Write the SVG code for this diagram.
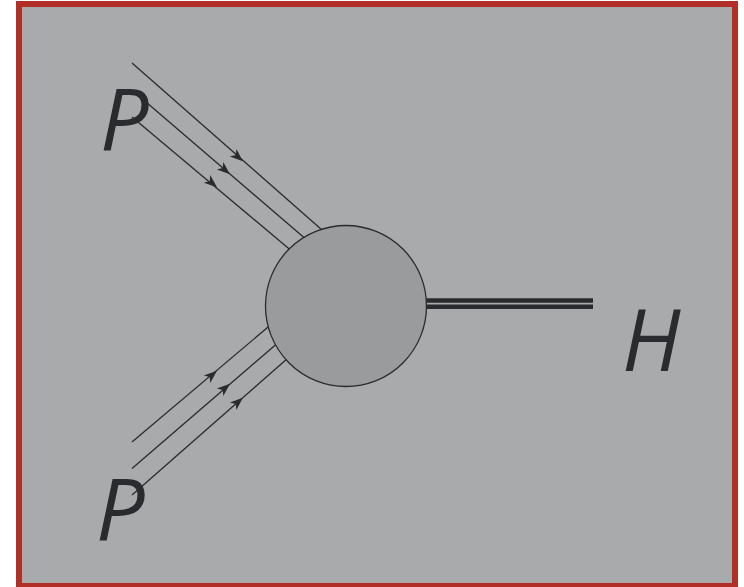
<svg xmlns="http://www.w3.org/2000/svg" width="744" height="587" viewBox="0 0 744 587">
<defs>
<style>
.ln{stroke:#2a2b2e;stroke-width:1.3;fill:none}
.lbl{font-family:"Open Sans","Noto Sans","Liberation Sans",sans-serif;font-style:italic;font-size:86px;fill:#2a2b2e}
</style>
<path id="ah" d="M6.5,0 L-6.5,-5 L-3,0 L-6.5,5 Z" fill="#2a2b2e"/>
</defs>
<rect x="19" y="4" width="716" height="582" fill="#a9aaac" stroke="#b22f27" stroke-width="6"/>
<g id="connectors">
<line class="ln" x1="132" y1="63" x2="330" y2="237"/>
<line class="ln" x1="132" y1="90" x2="315" y2="247"/>
<line class="ln" x1="132" y1="117" x2="300" y2="258"/>
<use href="#ah" transform="translate(238,157) rotate(41.5)"/>
<use href="#ah" transform="translate(225,170) rotate(40.5)"/>
<use href="#ah" transform="translate(212,183) rotate(40)"/>
<line class="ln" x1="132" y1="442" x2="280" y2="317"/>
<line class="ln" x1="132" y1="468.5" x2="287" y2="335"/>
<line class="ln" x1="132" y1="495" x2="296" y2="351"/>
<use href="#ah" transform="translate(212,375) rotate(-40.2)"/>
<use href="#ah" transform="translate(225,388) rotate(-40.7)"/>
<use href="#ah" transform="translate(238,402) rotate(-41.2)"/>
<line x1="400" y1="300.5" x2="593" y2="300.5" stroke="#2a2b2e" stroke-width="4.5"/>
<line x1="400" y1="306.8" x2="593" y2="306.8" stroke="#2a2b2e" stroke-width="4.5"/>
</g>
<g id="blob">
<circle cx="346" cy="306" r="80.5" fill="#9a9b9d" stroke="#2a2b2e" stroke-width="1.3"/>
</g>
<g id="p-top"><text class="lbl" x="100" y="150">P</text></g>
<g id="p-bottom"><text class="lbl" x="96" y="540">P</text></g>
<g id="h"><text class="lbl" x="622" y="371">H</text></g>
</svg>
